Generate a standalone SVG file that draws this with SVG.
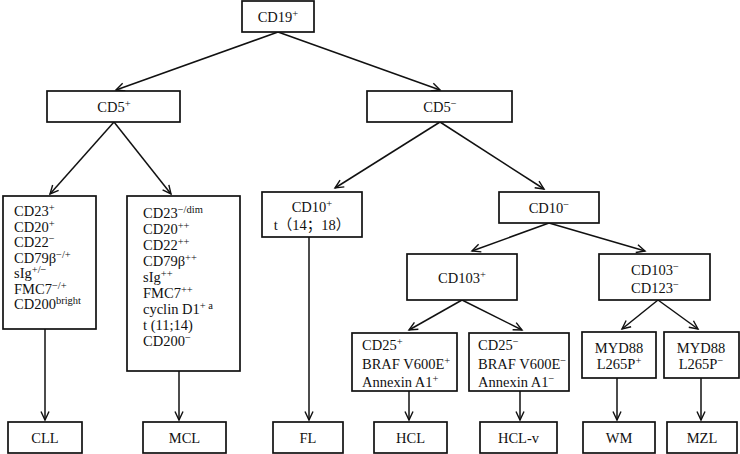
<svg xmlns="http://www.w3.org/2000/svg" width="740" height="454" viewBox="0 0 740 454">
<defs>
<marker id="ah" markerUnits="userSpaceOnUse" markerWidth="12" markerHeight="10" refX="8.5" refY="4" orient="auto" overflow="visible">
<path d="M0,0 L8.5,4 L0,8" fill="none" stroke="#111" stroke-width="1.4"/>
</marker>
<style>
rect{fill:#fff;stroke:#111;stroke-width:1.7}
text{font-family:"Liberation Serif","Noto Sans CJK SC",serif;font-size:14.5px;fill:#111}
.c{text-anchor:middle}
.s{font-size:10.5px}
#connectors line{stroke:#111;stroke-width:1.5;marker-end:url(#ah)}
</style>
</defs>
<rect x="0" y="0" width="740" height="454" style="fill:#fff;stroke:none"/>
<g id="connectors">
<line x1="278" y1="32" x2="116" y2="90"/>
<line x1="278" y1="32" x2="440" y2="90"/>
<line x1="114" y1="122" x2="50" y2="194"/>
<line x1="114" y1="122" x2="171" y2="194"/>
<line x1="440" y1="122" x2="335" y2="188"/>
<line x1="440" y1="122" x2="544" y2="189"/>
<line x1="549" y1="223" x2="472" y2="251"/>
<line x1="549" y1="223" x2="645" y2="251"/>
<line x1="462" y1="300" x2="409" y2="330"/>
<line x1="462" y1="300" x2="522" y2="330"/>
<line x1="658" y1="300" x2="622" y2="329"/>
<line x1="658" y1="300" x2="698" y2="329"/>
<line x1="45" y1="329" x2="45" y2="420"/>
<line x1="179" y1="371" x2="179" y2="420"/>
<line x1="309" y1="237" x2="309" y2="420"/>
<line x1="409" y1="391" x2="409" y2="420"/>
<line x1="520" y1="391" x2="520" y2="420"/>
<line x1="617" y1="378" x2="617" y2="420"/>
<line x1="701" y1="378" x2="701" y2="420"/>
</g>
<g id="cd19"><rect x="242" y="1" width="72" height="31"/><text class="c" x="278" y="22">CD19<tspan class="s" dy="-5">+</tspan></text></g>
<g id="cd5pos"><rect x="47" y="91" width="133" height="31"/><text class="c" x="114" y="112">CD5<tspan class="s" dy="-5">+</tspan></text></g>
<g id="cd5neg"><rect x="367" y="91" width="145" height="31"/><text class="c" x="440" y="112">CD5<tspan class="s" dy="-5">−</tspan></text></g>
<g id="cll-markers"><rect x="3" y="196" width="93" height="133"/>
<text x="14" y="216">CD23<tspan class="s" dy="-5">+</tspan></text>
<text x="14" y="231.5">CD20<tspan class="s" dy="-5">+</tspan></text>
<text x="14" y="247">CD22<tspan class="s" dy="-5">−</tspan></text>
<text x="14" y="262.5">CD79β<tspan class="s" dy="-5">−/+</tspan></text>
<text x="14" y="278">sIg<tspan class="s" dy="-5">+/−</tspan></text>
<text x="14" y="293.5">FMC7<tspan class="s" dy="-5">−/+</tspan></text>
<text x="14" y="309">CD200<tspan class="s" dy="-5">bright</tspan></text>
</g>
<g id="mcl-markers"><rect x="127" y="196" width="113" height="175"/>
<text x="143" y="218">CD23<tspan class="s" dy="-5">−/dim</tspan></text>
<text x="143" y="234">CD20<tspan class="s" dy="-5">++</tspan></text>
<text x="143" y="250">CD22<tspan class="s" dy="-5">++</tspan></text>
<text x="143" y="266">CD79β<tspan class="s" dy="-5">++</tspan></text>
<text x="143" y="282">sIg<tspan class="s" dy="-5">++</tspan></text>
<text x="143" y="298">FMC7<tspan class="s" dy="-5">++</tspan></text>
<text x="143" y="314">cyclin D1<tspan class="s" dy="-5">+ a</tspan></text>
<text x="143" y="330">t (11;14)</text>
<text x="143" y="346">CD200<tspan class="s" dy="-5">−</tspan></text>
</g>
<g id="cd10pos"><rect x="262" y="192" width="100" height="45"/>
<text class="c" x="312" y="212">CD10<tspan class="s" dy="-5">+</tspan></text>
<text class="c" x="312" y="230">t（14；18）</text>
</g>
<g id="cd10neg"><rect x="499" y="192" width="100" height="31"/><text class="c" x="549" y="213">CD10<tspan class="s" dy="-5">−</tspan></text></g>
<g id="cd103pos"><rect x="407" y="254" width="110" height="46"/><text class="c" x="462" y="283">CD103<tspan class="s" dy="-5">+</tspan></text></g>
<g id="cd103neg"><rect x="599" y="254" width="111" height="46"/>
<text class="c" x="655" y="275">CD103<tspan class="s" dy="-5">−</tspan></text>
<text class="c" x="655" y="293">CD123<tspan class="s" dy="-5">−</tspan></text>
</g>
<g id="cd25pos"><rect x="352" y="333" width="105" height="58"/>
<text x="362" y="350">CD25<tspan class="s" dy="-5">+</tspan></text>
<text x="362" y="368.5">BRAF V600E<tspan class="s" dy="-5">+</tspan></text>
<text x="362" y="387">Annexin A1<tspan class="s" dy="-5">+</tspan></text>
</g>
<g id="cd25neg"><rect x="469" y="333" width="100" height="58"/>
<text x="478" y="350">CD25<tspan class="s" dy="-5">−</tspan></text>
<text x="478" y="368.5">BRAF V600E<tspan class="s" dy="-5">−</tspan></text>
<text x="478" y="387">Annexin A1<tspan class="s" dy="-5">−</tspan></text>
</g>
<g id="myd88pos"><rect x="582" y="332" width="74" height="46"/>
<text class="c" x="619" y="353">MYD88</text>
<text class="c" x="619" y="369">L265P<tspan class="s" dy="-5">+</tspan></text>
</g>
<g id="myd88neg"><rect x="664" y="332" width="75" height="46"/>
<text class="c" x="701" y="353">MYD88</text>
<text class="c" x="701" y="369">L265P<tspan class="s" dy="-5">−</tspan></text>
</g>
<g id="cll"><rect x="8" y="422" width="74" height="31"/><text class="c" x="45" y="443">CLL</text></g>
<g id="mcl"><rect x="143" y="422" width="83" height="31"/><text class="c" x="184.5" y="443">MCL</text></g>
<g id="fl"><rect x="273" y="422" width="70" height="31"/><text class="c" x="308" y="443">FL</text></g>
<g id="hcl"><rect x="374" y="422" width="73" height="31"/><text class="c" x="410.5" y="443">HCL</text></g>
<g id="hclv"><rect x="480" y="422" width="77" height="31"/><text class="c" x="518.5" y="443">HCL-v</text></g>
<g id="wm"><rect x="583" y="422" width="72" height="31"/><text class="c" x="619" y="443">WM</text></g>
<g id="mzl"><rect x="667" y="422" width="70" height="31"/><text class="c" x="702" y="443">MZL</text></g>
</svg>
